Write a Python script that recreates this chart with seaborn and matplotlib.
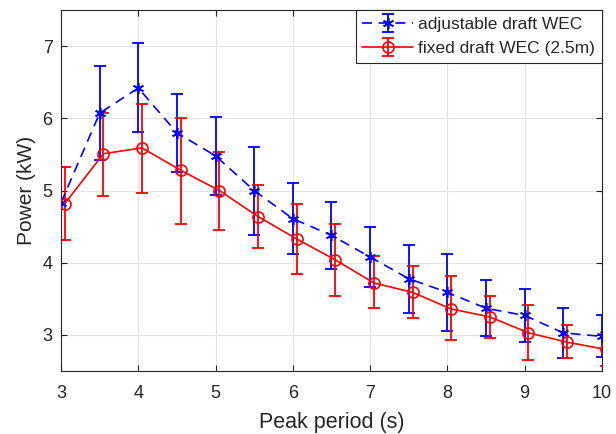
import matplotlib
matplotlib.use("Agg")
import matplotlib.pyplot as plt
import seaborn as sns
import numpy as np
import pandas as pd
from matplotlib.legend_handler import HandlerTuple

periods = [3.0, 3.5, 4.0, 4.5, 5.0, 5.5, 6.0, 6.5, 7.0, 7.5, 8.0, 8.5, 9.0, 9.5, 10.0]

adj_mean = [4.83, 6.07, 6.42, 5.80, 5.48, 5.00, 4.61, 4.38, 4.08, 3.78, 3.59, 3.37, 3.27, 3.03, 2.98]
adj_upper = [5.32, 6.72, 7.04, 6.34, 6.02, 5.60, 5.10, 4.84, 4.49, 4.25, 4.12, 3.76, 3.63, 3.37, 3.27]
adj_lower = [4.31, 5.42, 5.81, 5.26, 4.94, 4.39, 4.12, 3.92, 3.67, 3.31, 3.05, 2.99, 2.90, 2.68, 2.69]

fix_mean = [4.82, 5.51, 5.59, 5.28, 5.00, 4.64, 4.33, 4.04, 3.72, 3.59, 3.36, 3.25, 3.03, 2.90, 2.80]
fix_upper = [5.32, 6.07, 6.20, 6.01, 5.53, 5.07, 4.81, 4.53, 4.09, 3.95, 3.81, 3.54, 3.42, 3.14, 3.03]
fix_lower = [4.31, 4.93, 4.97, 4.53, 4.46, 4.20, 3.84, 3.54, 3.37, 3.23, 2.93, 2.96, 2.65, 2.68, 2.57]

labels = ["adjustable draft WEC", "fixed draft WEC (2.5m)"]
dodge = 0.05

sns.set_theme(style="whitegrid")
plt.rcParams['font.family'] = ['Liberation Sans', 'DejaVu Sans']

fig = plt.figure(figsize=(6.16, 4.34), dpi=100)
ax = fig.add_axes([0.099, 0.145, 0.878, 0.832])

x_adj = np.array(periods)
x_fix = np.array(periods) + dodge

df_adj = pd.DataFrame({"x": x_adj, "y": adj_mean})
df_fix = pd.DataFrame({"x": x_fix, "y": fix_mean})

blue = "#0000ff"
red = "#ff0000"

sns.lineplot(data=df_adj, x="x", y="y", ax=ax, color=blue,
             marker=(6, 2, 0), markersize=8, markeredgecolor=blue,
             markeredgewidth=1.2, linewidth=1.2, legend=False, zorder=3)
l1 = ax.lines[-1]
l1.set_linestyle((0, (6, 4)))
sns.lineplot(data=df_fix, x="x", y="y", ax=ax, color=red, marker="o",
             markersize=8, markeredgecolor=red, markerfacecolor="none",
             markeredgewidth=1.2, linewidth=1.2, legend=False, zorder=3)
l2 = ax.lines[-1]

am = np.array(adj_mean)
fm = np.array(fix_mean)
eb1 = ax.errorbar(x_adj, am, yerr=[am - np.array(adj_lower), np.array(adj_upper) - am],
                  fmt="none", ecolor=blue, elinewidth=1.3, capsize=4, capthick=1.3, zorder=2)
eb2 = ax.errorbar(x_fix, fm, yerr=[fm - np.array(fix_lower), np.array(fix_upper) - fm],
                  fmt="none", ecolor=red, elinewidth=1.3, capsize=4, capthick=1.3, zorder=2)

ax.set_xlim(3, 10)
ax.set_ylim(2.5, 7.5)
ax.set_xticks([3, 4, 5, 6, 7, 8, 9, 10])
ax.set_yticks([3, 4, 5, 6, 7])
ax.set_xlabel("Peak period (s)", fontsize=15.5, color="#262626", labelpad=7)
ax.set_ylabel("Power (kW)", fontsize=15, color="#262626", labelpad=5)
ax.tick_params(axis="both", which="both", direction="in", length=4, width=0.8,
               labelsize=13, colors="#262626", top=True, right=True,
               bottom=True, left=True)
ax.tick_params(axis="x", pad=10)
ax.tick_params(axis="y", pad=6)
ax.grid(True, color="#e3e3e3", linewidth=0.8)
ax.set_facecolor("white")
for s in ax.spines.values():
    s.set_visible(True)
    s.set_color("#262626")
    s.set_linewidth(0.8)

leg = ax.legend([(l1, eb1), (l2, eb2)], labels, loc="upper right",
                handler_map={tuple: HandlerTuple(ndivide=1, pad=0)},
                fontsize=12.5, frameon=True, fancybox=False, edgecolor="#262626",
                borderaxespad=0.0, handlelength=2.9, borderpad=0.4,
                labelspacing=0.5, handletextpad=0.3)
leg.get_frame().set_linewidth(0.8)
leg.get_frame().set_alpha(1)

fig.savefig("out.png", dpi=100)
